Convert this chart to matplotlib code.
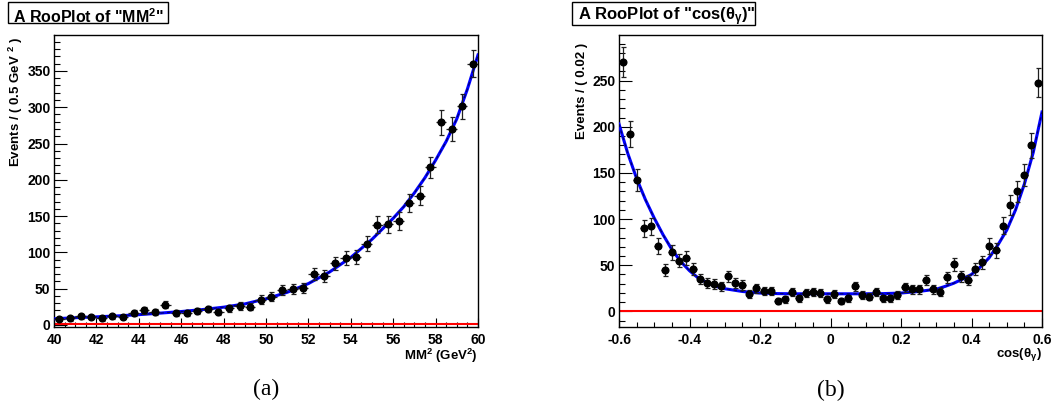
import numpy as np
import matplotlib
matplotlib.use("Agg")
import matplotlib.pyplot as plt
from matplotlib.patches import Rectangle
from matplotlib.ticker import MultipleLocator

# fuentes tipo ROOT (helvetica negrita)
plt.rcParams['font.family'] = ['Liberation Sans', 'DejaVu Sans']
plt.rcParams['font.weight'] = 'bold'
plt.rcParams['mathtext.fontset'] = 'custom'
plt.rcParams['mathtext.rm'] = 'Liberation Sans:bold'
plt.rcParams['mathtext.it'] = 'Liberation Sans:bold'
plt.rcParams['mathtext.bf'] = 'Liberation Sans:bold'
plt.rcParams['mathtext.default'] = 'bf'

# ---- panel (a): MM^2 ----
mm2_centers = np.arange(40.25, 60.0, 0.5)
mm2_counts = [8, 9, 12, 11, 9, 12, 11, 17, 20, 18,
              28, 16, 16, 19, 22, 18, 23, 26, 25, 35,
              39, 48, 50, 51, 70, 67, 85, 92, 93, 112,
              138, 139, 143, 168, 178, 217, 279, 270, 301, 360]
mm2_fit_x = [40, 41, 42, 43, 44, 45, 46, 47, 48, 49, 50, 51, 52, 53, 54,
             55, 56, 56.5, 57, 57.5, 58, 58.5, 59, 59.5, 60]
mm2_fit_y = [8.5, 10, 11.2, 12.5, 14.2, 16.3, 18.5, 21.2, 24.5, 29, 36, 45, 57, 73, 93,
             118, 147, 163, 182, 203, 227, 253, 284, 325, 372]
mm2_bkg_x = [40, 60]
mm2_bkg_y = [1.3, 1.3]

# ---- panel (b): cos(theta_gamma) ----
cos_centers = np.round(np.arange(-0.59, 0.6, 0.02), 2)
cos_counts = [270, 192, 142, 90, 92, 71, 45, 64, 55, 58,
              46, 35, 31, 30, 27, 38, 31, 29, 19, 25,
              22, 22, 11, 13, 21, 14, 20, 21, 20, 13,
              19, 11, 14, 27, 18, 16, 21, 14, 14, 18,
              26, 24, 24, 34, 24, 21, 37, 51, 38, 34,
              46, 53, 71, 66, 93, 115, 130, 148, 180, 248]
cos_fit_x = [-0.6, -0.575, -0.55, -0.525, -0.5, -0.475, -0.45, -0.425, -0.4, -0.375,
             -0.35, -0.325, -0.3, -0.25, -0.2, -0.15, -0.1, 0.0, 0.1, 0.15, 0.2,
             0.25, 0.3, 0.325, 0.35, 0.375, 0.4, 0.425, 0.45, 0.475, 0.5,
             0.525, 0.55, 0.575, 0.6]
cos_fit_y = [203, 171, 144, 121, 101, 83, 67, 54, 44, 36,
             31, 27, 24.5, 21.5, 19.8, 19.2, 19, 19, 19, 19.2, 19.8,
             21.5, 24, 27, 30.5, 35, 40, 48, 58, 72, 88,
             110, 138, 172, 216]
cos_bkg_x = [-0.6, 0.6]
cos_bkg_y = [0, 0]

W, H = 1060, 409
fig = plt.figure(figsize=(W / 100, H / 100), dpi=100)


def caja(x0, y0, x1, y1):
    # rectangulo en pixeles (origen arriba a la izquierda)
    return [x0 / W, 1 - y1 / H, (x1 - x0) / W, (y1 - y0) / H]


def recuadro(x0, y0, x1, y1):
    r = caja(x0, y0, x1, y1)
    fig.add_artist(Rectangle((r[0], r[1]), r[2], r[3], transform=fig.transFigure,
                             fill=False, lw=1.0, ec='black'))


def dibuja(ax, xc, cnt, half, fx, fy, bx, by):
    cnt = np.array(cnt, dtype=float)
    ax.plot(bx, by, color='red', lw=1.5, zorder=2)
    ax.plot(fx, fy, color='#0000ff', lw=2.2, zorder=3)
    ax.plot(fx, fy, color='#000060', lw=0.8, dashes=(3, 3), zorder=3)
    ax.errorbar(xc, cnt, xerr=half, fmt='none', ecolor='#202020',
                elinewidth=0.9, capsize=0, zorder=4)
    ax.errorbar(xc, cnt, yerr=np.sqrt(cnt), fmt='o', color='black', ecolor='#202020',
                ms=4.8, elinewidth=0.9, capsize=1.8, capthick=0.9, zorder=5)
    for s in ax.spines.values():
        s.set_linewidth(1.0)
    ax.tick_params(which='both', direction='in', top=False, right=False,
                   width=0.8, labelsize=10, pad=2.5)
    ax.tick_params(axis='x', which='both', pad=4)
    ax.tick_params(axis='x', which='major', length=6.5)
    ax.tick_params(axis='x', which='minor', length=3.6)
    ax.tick_params(axis='y', which='major', length=9)
    ax.tick_params(axis='y', which='minor', length=4.5)


# panel izquierdo
ax1 = fig.add_axes(caja(54, 35, 478, 327))
dibuja(ax1, mm2_centers, mm2_counts, 0.25, mm2_fit_x, mm2_fit_y, mm2_bkg_x, mm2_bkg_y)
ax1.set_xlim(40, 60)
ax1.set_ylim(-2.8, 399.5)
ax1.xaxis.set_major_locator(MultipleLocator(2))
ax1.xaxis.set_minor_locator(MultipleLocator(0.5))
ax1.yaxis.set_major_locator(MultipleLocator(50))
ax1.yaxis.set_minor_locator(MultipleLocator(10))

# panel derecho
ax2 = fig.add_axes(caja(619, 35, 1042, 327))
dibuja(ax2, cos_centers, cos_counts, 0.01, cos_fit_x, cos_fit_y, cos_bkg_x, cos_bkg_y)
ax2.set_xlim(-0.6, 0.6)
ax2.set_ylim(-17, 299.5)
ax2.xaxis.set_minor_locator(MultipleLocator(0.05))
ax2.yaxis.set_major_locator(MultipleLocator(50))
ax2.yaxis.set_minor_locator(MultipleLocator(10))
ax2.set_xticks([-0.6, -0.4, -0.2, 0, 0.2, 0.4, 0.6])
ax2.set_xticklabels(['-0.6', '-0.4', '-0.2', '0', '0.2', '0.4', '0.6'])
ax2.set_yticks([0, 50, 100, 150, 200, 250])

for ax in (ax1, ax2):
    for lab in ax.get_xticklabels() + ax.get_yticklabels():
        lab.set_fontweight('bold')

# titulos en caja
recuadro(8, 2, 168, 23)
fig.text(12.5 / W, 1 - 23 / H, 'A RooPlot of "MM$^{2}$"', fontsize=11.5,
         fontweight='bold', ha='left', va='baseline')
recuadro(572, 2, 755, 25)
fig.text(577.5 / W, 1 - 20.5 / H, 'A RooPlot of "cos(θ$_{γ}$)"', fontsize=12,
         fontweight='bold', ha='left', va='baseline')

# etiquetas de ejes
fig.text(16 / W, 1 - 37 / H, 'Events / ( 0.5 GeV $^{2}$ )', rotation=90, fontsize=9.5,
         fontweight='bold', ha='center', va='top')
fig.text(582 / W, 1 - 43 / H, 'Events / ( 0.02 )', rotation=90, fontsize=9.5,
         fontweight='bold', ha='center', va='top')
fig.text(478 / W, 1 - 360 / H, 'MM$^{2}$ (GeV$^{2}$)', fontsize=9.5,
         fontweight='bold', ha='right', va='baseline')
fig.text(1042 / W, 1 - 357 / H, 'cos(θ$_{γ}$)', fontsize=9.5,
         fontweight='bold', ha='right', va='baseline')

# subtitulos
fig.text(266 / W, 1 - 389 / H, '(a)', fontsize=17, family='Liberation Serif',
         fontweight='normal', ha='center', va='center')
fig.text(831 / W, 1 - 390 / H, '(b)', fontsize=17, family='Liberation Serif',
         fontweight='normal', ha='center', va='center')

fig.savefig('out.png', dpi=100)
